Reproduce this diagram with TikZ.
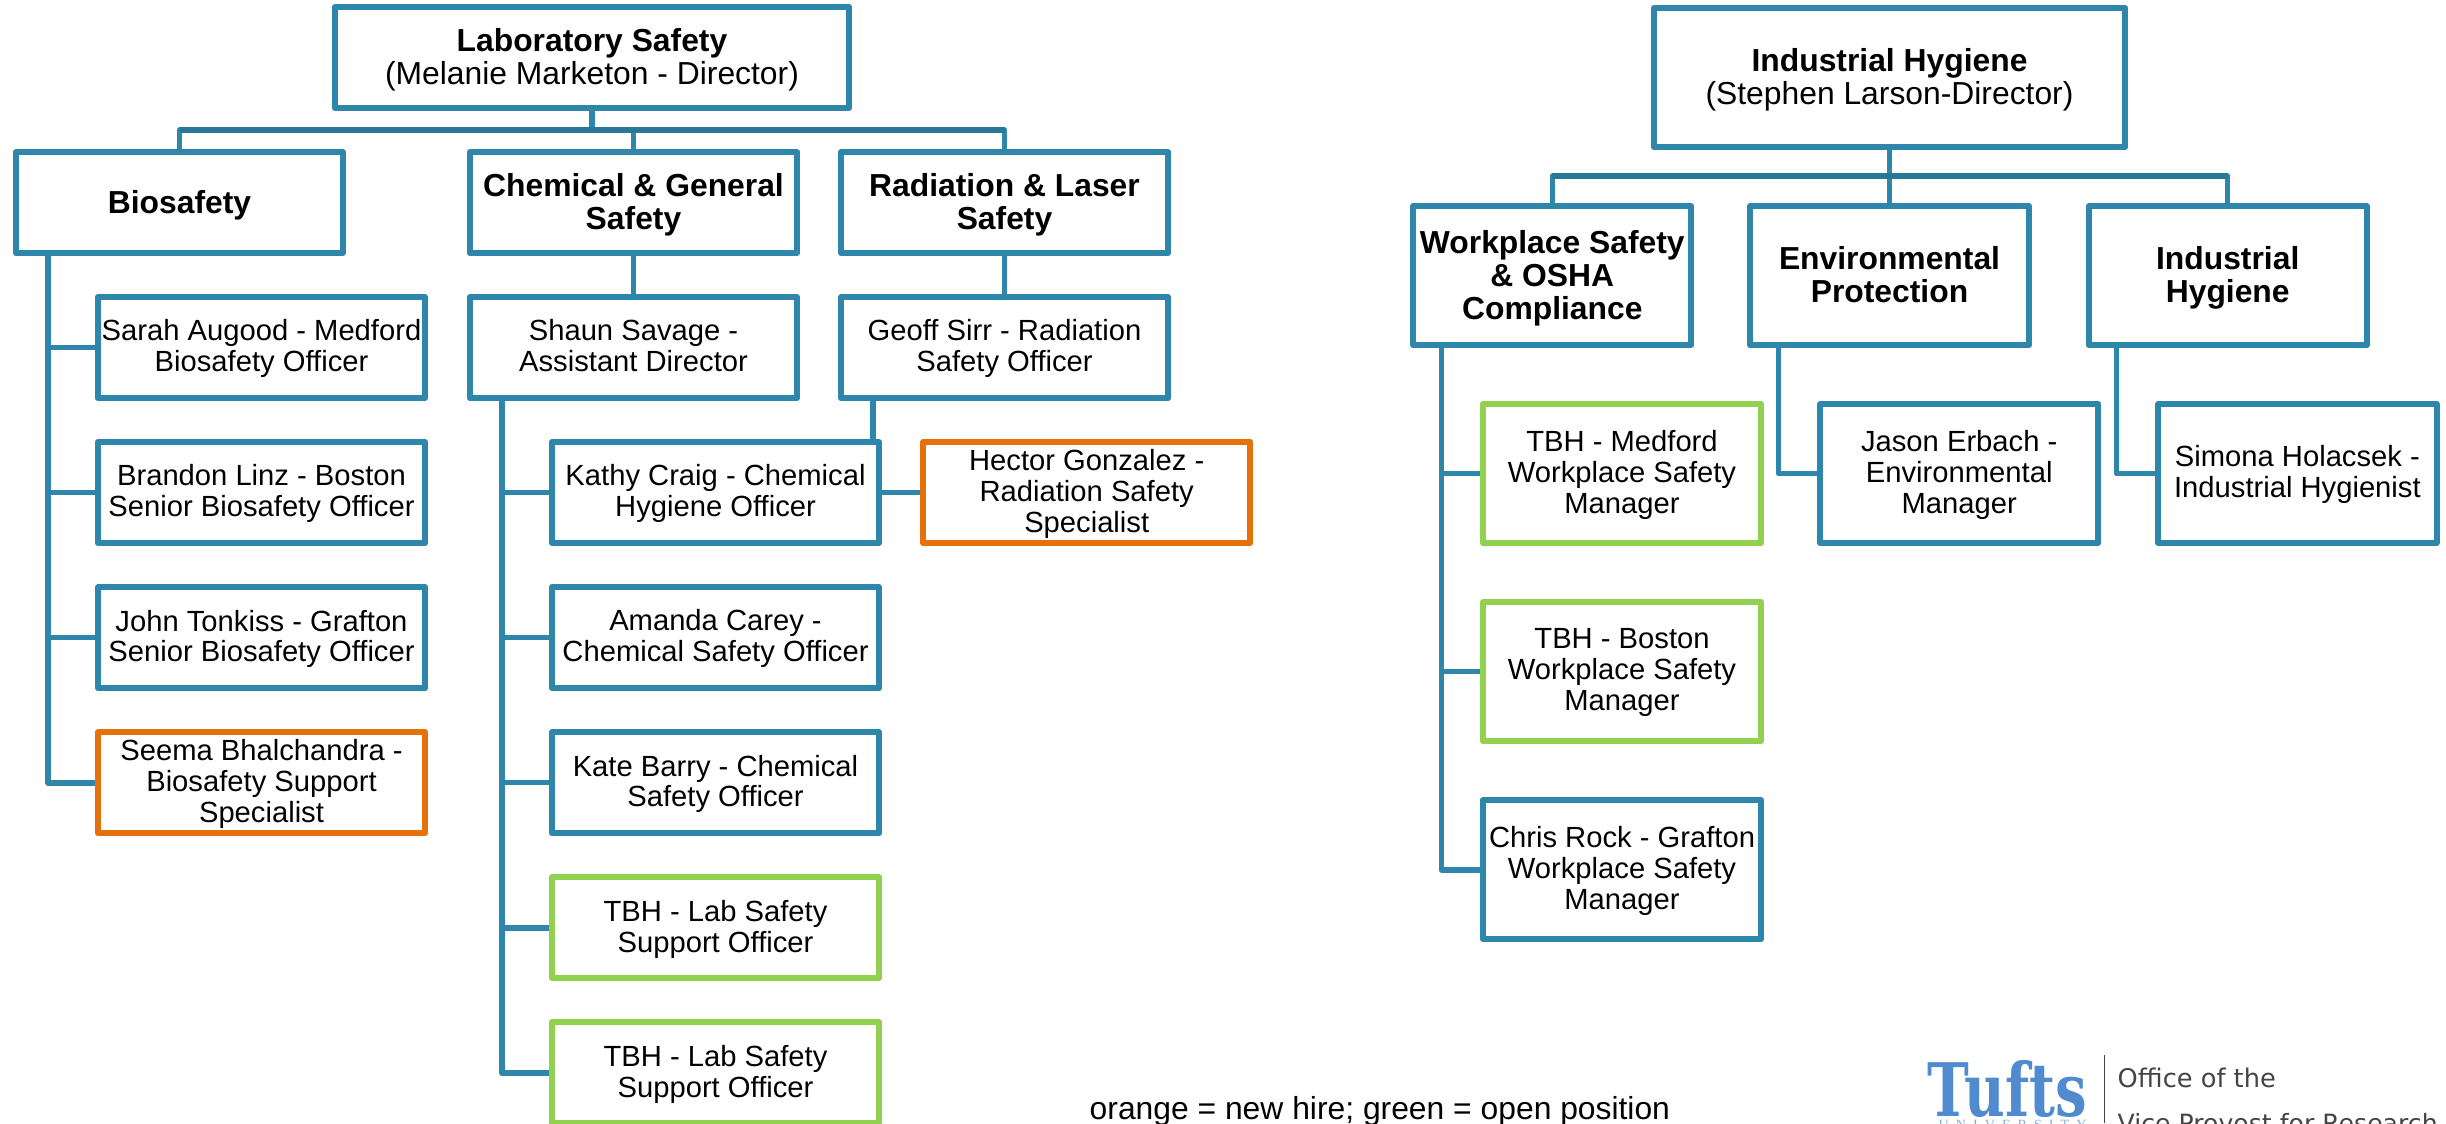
\documentclass[tikz,border=0pt]{standalone}
\usepackage{fontspec}
\usepackage{tikz}
\usetikzlibrary{positioning,backgrounds}
\setmainfont{Liberation Sans}
\newfontfamily\tuftsfont{DejaVu Serif}
\newfontfamily\univfont[LetterSpace=50]{Liberation Serif}
\newfontfamily\officefont{DejaVu Sans}
\definecolor{lineblue}{RGB}{46,134,171}
\definecolor{busblue}{RGB}{42,120,152}
\definecolor{hireorange}{RGB}{230,112,10}
\definecolor{opengreen}{RGB}{146,208,80}
\definecolor{logoblue}{RGB}{80,139,208}
\definecolor{officegrey}{RGB}{68,68,68}

\begin{document}
\begin{tikzpicture}[x=0.01cm,y=-0.01cm,every text node part/.style={align=center},
box/.style={draw=lineblue,fill=white,line width=0.06cm,line join=round,inner sep=0pt,outer sep=0pt,text depth=1pt,font=\fontsize{8.3}{8.8}\selectfont},
wide/.style={box,minimum width=3.27cm,minimum height=1.01cm},
tall/.style={box,minimum width=2.78cm,minimum height=1.39cm},
head/.style={text depth=0.5pt,font=\fontsize{9.05}{9.4}\selectfont},
hire/.style={draw=hireorange},open/.style={draw=opengreen},
link/.style={draw=lineblue,line width=0.055cm,line join=round},
bus/.style={draw=busblue,line width=0.055cm}]
\useasboundingbox (0,0) rectangle (2446,1123);

\node [wide,head,minimum width=5.14cm] (lab) at (592,57.5) {\textbf{Laboratory Safety}\\(Melanie Marketon - Director)};
\node [wide,head] (biosafety) at (179.5,202.5) {\textbf{Biosafety}};
\node [wide,head] (chemical) at (633.5,202.5) {\textbf{Chemical \& General}\\\textbf{Safety}};
\node [wide,head] (radiation) at (1004.5,202.5) {\textbf{Radiation \& Laser}\\\textbf{Safety}};

\node [wide] (sarah) at (261.5,347.5) {Sarah Augood - Medford\\Biosafety Officer};
\node [wide,below=0.44cm of sarah] (brandon) {Brandon Linz - Boston\\Senior Biosafety Officer};
\node [wide,below=0.44cm of brandon] (john) {John Tonkiss - Grafton\\Senior Biosafety Officer};
\node [wide,hire,below=0.44cm of john] (seema) {Seema Bhalchandra -\\Biosafety Support\\Specialist};

\node [wide,below=0.44cm of chemical] (shaun) {Shaun Savage -\\Assistant Director};
\node [wide,below=0.44cm of radiation] (geoff) {Geoff Sirr - Radiation\\Safety Officer};

\node [wide] (kathy) at (715.5,492.5) {Kathy Craig - Chemical\\Hygiene Officer};
\node [wide,below=0.44cm of kathy] (amanda) {Amanda Carey -\\Chemical Safety Officer};
\node [wide,below=0.44cm of amanda] (kate) {Kate Barry - Chemical\\Safety Officer};
\node [wide,open,below=0.44cm of kate] (tbhone) {TBH - Lab Safety\\Support Officer};
\node [wide,open,below=0.44cm of tbhone] (tbhtwo) {TBH - Lab Safety\\Support Officer};
\node [wide,hire,right=0.44cm of kathy] (hector) {Hector Gonzalez -\\Radiation Safety\\Specialist};

\node [tall,head,minimum width=4.71cm] (hygiene) at (1889.5,77.5) {\textbf{Industrial Hygiene}\\(Stephen Larson-Director)};
\node [tall,head,below=0.59cm of hygiene] (environ) {\textbf{Environmental}\\\textbf{Protection}};
\node [tall,head,left=0.59cm of environ] (workplace) {\textbf{Workplace Safety}\\\textbf{\& OSHA}\\\textbf{Compliance}};
\node [tall,head,right=0.6cm of environ] (industrial) {\textbf{Industrial}\\\textbf{Hygiene}};

\node [tall,open] (medford) at (1622,473.5) {TBH - Medford\\Workplace Safety\\Manager};
\node [tall,open,below=0.59cm of medford] (boston) {TBH - Boston\\Workplace Safety\\Manager};
\node [tall,below=0.59cm of boston] (chris) {Chris Rock - Grafton\\Workplace Safety\\Manager};
\node [tall,right=0.59cm of medford] (jason) {Jason Erbach -\\Environmental\\Manager};
\node [tall,right=0.6cm of jason] (simona) {Simona Holacsek -\\Industrial Hygienist};

\coordinate (labbus) at ([yshift=-0.22cm]lab.south);
\coordinate (hygbus) at ([yshift=-0.29cm]hygiene.south);

\begin{scope}[on background layer]
\draw [link] (lab.south) -- (labbus);
\foreach \dept in {biosafety,chemical,radiation}
	\draw [link] (labbus) -| (\dept.north);
\draw [bus] (biosafety.north |- labbus) -- (radiation.north |- labbus);
\draw [link] (hygiene.south) -- (hygbus);
\foreach \dept in {workplace,environ,industrial}
	\draw [link] (hygbus) -| (\dept.north);
\draw [bus] (workplace.north |- hygbus) -- (industrial.north |- hygbus);
\draw [link] (chemical.south) -- (shaun.north);
\draw [link] (radiation.south) -- (geoff.north);
\foreach \staff in {sarah,brandon,john,seema}
	\draw [link] ([xshift=0.32cm]biosafety.south west) |- (\staff.west);
\foreach \staff in {kathy,amanda,kate,tbhone,tbhtwo}
	\draw [link] ([xshift=0.32cm]shaun.south west) |- (\staff.west);
\draw [link] ([xshift=0.32cm]geoff.south west) |- (hector.west);
\foreach \staff in {medford,boston,chris}
	\draw [link] ([xshift=0.28cm]workplace.south west) |- (\staff.west);
\draw [link] ([xshift=0.28cm]environ.south west) |- (jason.west);
\draw [link] ([xshift=0.28cm]industrial.south west) |- (simona.west);
\end{scope}

\node [anchor=base west,inner sep=0pt,font=\fontsize{9.05}{9.4}\selectfont] (legend) at (1089,1119) {orange = new hire; green = open position};

\node [anchor=base west,inner sep=0pt,xscale=0.76,transform shape,text=logoblue,font=\tuftsfont\bfseries\fontsize{21}{22}\selectfont] (tufts) at (1927,1116) {Tufts};
\node [anchor=base west,inner sep=0pt,text=logoblue!70,font=\univfont\fontsize{4}{5}\selectfont] (university) at (1938,1129) {UNIVERSITY};
\coordinate (ruletop) at (2104.5,1055);
\coordinate (rulebottom) at (2104.5,1123);
\draw [officegrey,line width=0.015cm] (ruletop) -- (rulebottom);
\node [anchor=base west,inner sep=0pt,text=officegrey,font=\officefont\fontsize{7.3}{8}\selectfont] (office) at (2117,1087) {Office of the};
\node [anchor=base west,inner sep=0pt,text=officegrey,font=\officefont\fontsize{7.15}{8}\selectfont] (vice) at (2117,1132) {Vice Provost for Research};
\end{tikzpicture}
\end{document}
